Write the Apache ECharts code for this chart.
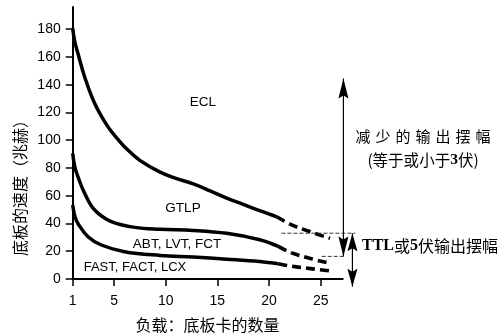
<!DOCTYPE html>
<html><head><meta charset="utf-8">
<script src="https://cdn.jsdelivr.net/npm/echarts@6/dist/echarts.min.js"></script>
<style>html,body{margin:0;padding:0;background:#fff}#c{width:500px;height:334px}</style>
</head><body><div id="c"></div>
<script>
// ---- data ----
const xTicks = [1, 5, 10, 15, 20, 25];
const yTicks = [0, 20, 40, 60, 80, 100, 120, 140, 160, 180];

const eclSolid  = [[1,180.5],[1.2,171],[1.51,162.5],[2.16,145.6],[3.13,126.5],[4.42,109.6],[5.4,100.5],[6.19,94],[7.5,85.5],[9.46,77],[11,72.5],[12.67,68.5],[14.3,63.5],[15.9,58.3],[17.5,53.8],[19.1,49.2],[20.75,44.8]];
const eclDash   = [[20.75,44.8],[22.2,39],[24,34],[25.9,29.3]];
const gtlpSolid = [[1,90.5],[1.2,81],[1.51,73.6],[2.16,61.7],[3.13,49.7],[4.74,41.3],[7,37.2],[9.46,35.8],[12.67,35],[15.9,32.9],[19.1,28.3],[20.9,23.5]];
const gtlpDash  = [[20.9,23.5],[22.2,18.8],[24,14.8],[25.6,11.8]];
const fastSolid = [[1,53.3],[1.2,45.5],[1.51,40],[2.48,30.5],[3.77,24.5],[6,19.7],[9.46,17],[12.67,15.8],[15.9,14.3],[19.1,12.6],[20.9,11]];
const fastDash  = [[20.9,11],[22.2,9.2],[24,7.5],[25.8,5.9]];

const refUpper = {y: 33, from: 21.2, to: 28.35};   // thin dashed reference line
const refLower = {y: 16.3, from: 25.1, to: 27.35};
const bigArrow = {x: 27.2, top: 144.5, bottom: 16.3};
const smallArrow = {x: 28.07, top: 33, bottom: -5.5};

const curveLabels = ['ECL', 'GTLP', 'ABT, LVT, FCT', 'FAST, FACT, LCX'];
const yName = '底板的速度（兆赫）';
const xName = '负载：底板卡的数量';

// ---- chart ----
const chart = echarts.init(document.getElementById('c'));
const solidStyle = {color:'#000', width:3.5};
const dashStyle = {color:'#000', width:3.6, type:[9,5]};
function ser(data, dashed){
  return {type:'line', data:data, symbol:'none', smooth:0.4, silent:true,
          lineStyle: dashed ? dashStyle : solidStyle, z:3};
}
const axisCommon = {
  axisLine:{show:true, onZero:false, lineStyle:{color:'#000', width:2}},
  splitLine:{show:false}
};
chart.setOption({
  animation:false,
  grid:{left:72.7, right:157.3, top:7, bottom:55, containLabel:false},
  xAxis:Object.assign({type:'value', min:1, max:27.13,
    axisTick:{show:true, customValues:xTicks, length:7, lineStyle:{color:'#000', width:1.5}},
    axisLabel:{show:true, customValues:xTicks, margin:15, fontSize:14, color:'#000', fontFamily:'Liberation Sans'}
  }, axisCommon),
  yAxis:Object.assign({type:'value', min:0, max:196,
    axisTick:{show:true, customValues:yTicks, length:7, lineStyle:{color:'#000', width:1.5}},
    axisLabel:{show:true, customValues:yTicks, margin:12, fontSize:14, color:'#000', fontFamily:'Liberation Sans'}
  }, axisCommon),
  series:[ser(eclSolid), ser(eclDash,true), ser(gtlpSolid), ser(gtlpDash,true), ser(fastSolid), ser(fastDash,true)]
});

function px(x, y){ return chart.convertToPixel({gridIndex:0}, [x, y]); }
function head(tip, up, h, w){
  const s = up ? 1 : -1, n = 3;
  return {type:'polygon', shape:{points:[[tip[0],tip[1]],[tip[0]-w,tip[1]+s*h],[tip[0],tip[1]+s*(h-n)],[tip[0]+w,tip[1]+s*h]]},
          style:{fill:'#000'}, z:10};
}
function vline(a, b, lw){ return {type:'line', shape:{x1:a[0],y1:a[1],x2:b[0],y2:b[1]}, style:{stroke:'#000', lineWidth:lw}, z:10}; }
function hdash(r){
  const a = px(r.from, r.y), b = px(r.to, r.y);
  return {type:'line', shape:{x1:a[0],y1:a[1],x2:b[0],y2:b[1]}, style:{stroke:'#333', lineWidth:1, lineDash:[4,2]}, z:9};
}
const bT = px(bigArrow.x, bigArrow.top), bB = px(bigArrow.x, bigArrow.bottom);
const sT = px(smallArrow.x, smallArrow.top), sB = px(smallArrow.x, smallArrow.bottom);
const f13 = '13.5px "Liberation Sans", Arial, sans-serif';
const cjk = '"Noto Sans CJK SC", sans-serif';
function txt(t, x, y, font, extra){
  return Object.assign({type:'text', x:x, y:y, z:11, style:{text:t, font:font, fill:'#000', align:'center', verticalAlign:'middle'}}, extra||{});
}
chart.setOption({graphic:[
  hdash(refUpper), hdash(refLower),
  vline(bT, bB, 1.2), head(bT, true, 20, 5), head(bB, false, 20, 5),
  vline(sT, sB, 1.2), head(sT, true, 18, 5), head(sB, false, 18, 5),
  txt(curveLabels[0], 203, 102, f13),
  txt(curveLabels[1], 183, 208, f13),
  txt(curveLabels[2], 177, 244, f13),
  txt(curveLabels[3], 135, 267.5, '13px "Liberation Sans", Arial, sans-serif'),
  txt('减\u2004少\u2004的\u2004输\u2004出\u2004摆\u2004幅', 423, 136, '15px ' + cjk),
  {type:'text', x:423, y:160, z:11, style:{text:'(等于或小于{b|3}伏)', font:'15.5px ' + cjk, fill:'#000', align:'center', verticalAlign:'middle',
     rich:{b:{font:'bold 15.5px "Liberation Serif", serif', fill:'#000'}}}},
  {type:'text', x:362, y:246, z:11, style:{text:'{b|TTL}或{b|5}伏输出摆幅', font:'16px ' + cjk, fill:'#000', align:'left', verticalAlign:'middle',
     rich:{b:{font:'bold 16px "Liberation Serif", serif', fill:'#000'}}}},
  txt(yName, 20, 184, '16px ' + cjk, {rotation:Math.PI/2}),
  txt(xName, 207.5, 325, '16px ' + cjk)
]});
</script></body></html>
